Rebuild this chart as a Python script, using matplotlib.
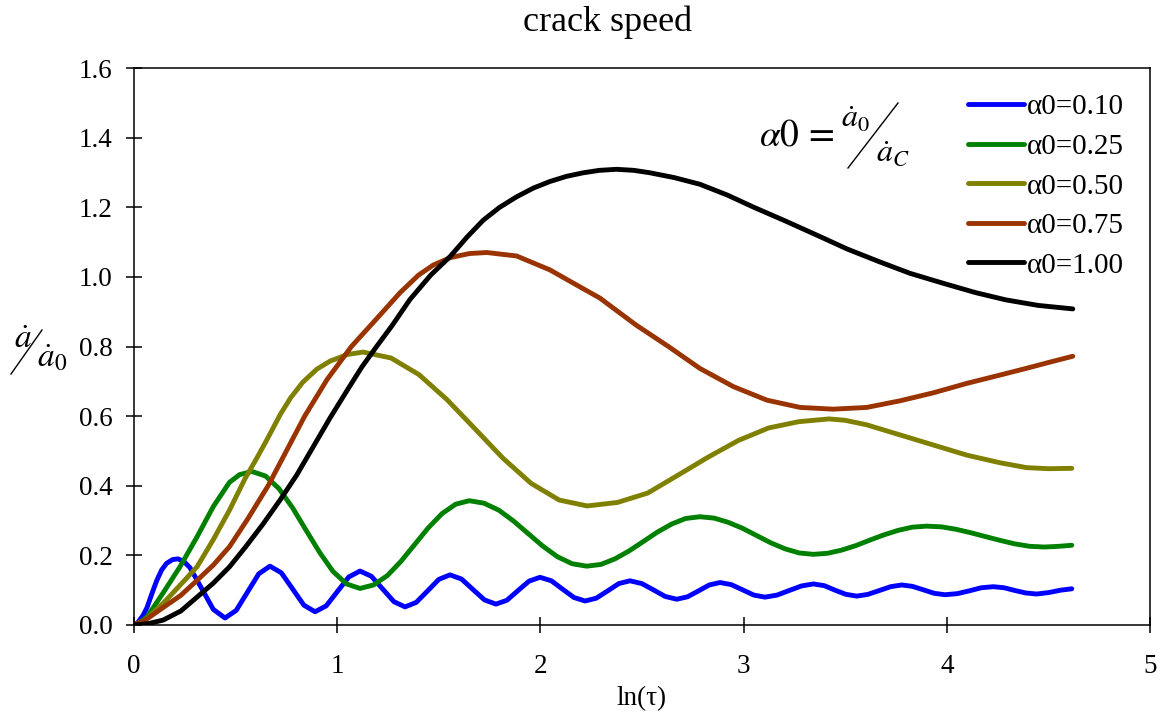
import matplotlib
matplotlib.use("Agg")
import matplotlib.pyplot as plt
from matplotlib.lines import Line2D

plt.rcParams['font.family'] = ['Liberation Serif', 'DejaVu Serif']
plt.rcParams['mathtext.fontset'] = 'stix'

# ---- data ----
labels = ["α0=0.10", "α0=0.25", "α0=0.50", "α0=0.75", "α0=1.00"]
colors = ["#0000FF", "#008000", "#808000", "#993300", "#000000"]

x_a010 = [0.000, 0.020, 0.045, 0.064, 0.088, 0.112, 0.136, 0.160, 0.190, 0.217, 0.246, 0.275,
          0.333, 0.390, 0.448, 0.503, 0.559,
          0.614, 0.669, 0.725, 0.780, 0.836, 0.891, 0.946, 1.002, 1.057, 1.112, 1.168, 1.223,
          1.279, 1.334, 1.389, 1.445, 1.500, 1.555, 1.612, 1.668, 1.725, 1.781, 1.835, 1.890,
          1.944, 1.998, 2.054, 2.109, 2.165, 2.220, 2.275, 2.331, 2.386, 2.441, 2.499, 2.556,
          2.614, 2.671, 2.724, 2.778, 2.831, 2.884, 2.939, 2.995, 3.050, 3.105, 3.165, 3.224,
          3.284, 3.343, 3.397, 3.450, 3.504, 3.557, 3.612, 3.668, 3.723, 3.778, 3.831, 3.885,
          3.938, 3.991, 4.051, 4.110, 4.170, 4.229, 4.282, 4.336, 4.389, 4.442, 4.500, 4.560,
          4.615]
y_a010 = [0.000, 0.008, 0.028, 0.050, 0.090, 0.128, 0.158, 0.177, 0.188, 0.190, 0.182, 0.165,
          0.105, 0.045, 0.020, 0.042, 0.095,
          0.147, 0.169, 0.150, 0.104, 0.057, 0.038, 0.055, 0.097, 0.138, 0.155, 0.140, 0.104,
          0.067, 0.052, 0.065, 0.098, 0.131, 0.144, 0.132, 0.102, 0.072, 0.060, 0.071, 0.099,
          0.126, 0.137, 0.127, 0.103, 0.079, 0.069, 0.077, 0.098, 0.119, 0.127, 0.119, 0.101,
          0.082, 0.074, 0.081, 0.098, 0.115, 0.122, 0.116, 0.101, 0.086, 0.080, 0.086, 0.099,
          0.112, 0.118, 0.113, 0.100, 0.088, 0.083, 0.088, 0.099, 0.110, 0.115, 0.111, 0.101,
          0.091, 0.087, 0.090, 0.098, 0.107, 0.110, 0.107, 0.099, 0.092, 0.089, 0.093, 0.100,
          0.104]

x_a025 = [0.000, 0.030, 0.064, 0.143, 0.226, 0.310, 0.390, 0.470, 0.520, 0.580, 0.647, 0.713,
          0.780, 0.846, 0.913, 0.979, 1.046, 1.112, 1.179, 1.247, 1.314, 1.381, 1.448, 1.516,
          1.583, 1.650, 1.722, 1.795, 1.867, 1.939, 2.011, 2.084, 2.156, 2.228, 2.298, 2.367,
          2.437, 2.507, 2.576, 2.646, 2.715, 2.785, 2.855, 2.924, 2.994, 3.064, 3.134, 3.203,
          3.273, 3.343, 3.413, 3.482, 3.552, 3.622, 3.691, 3.761, 3.830, 3.900, 3.973, 4.045,
          4.118, 4.190, 4.263, 4.335, 4.408, 4.480, 4.550, 4.615]
y_a025 = [0.000, 0.008, 0.023, 0.092, 0.167, 0.253, 0.340, 0.410, 0.432, 0.441, 0.428, 0.392,
          0.337, 0.273, 0.209, 0.154, 0.118, 0.105, 0.115, 0.142, 0.183, 0.231, 0.279, 0.320,
          0.347, 0.357, 0.350, 0.330, 0.299, 0.263, 0.227, 0.196, 0.176, 0.169, 0.174, 0.190,
          0.213, 0.240, 0.267, 0.290, 0.306, 0.311, 0.307, 0.295, 0.278, 0.257, 0.236, 0.219,
          0.207, 0.203, 0.206, 0.215, 0.228, 0.244, 0.259, 0.272, 0.281, 0.284, 0.282, 0.275,
          0.265, 0.254, 0.243, 0.233, 0.226, 0.224, 0.226, 0.229]

x_a050 = [0.000, 0.050, 0.143, 0.220, 0.310, 0.390, 0.470, 0.546, 0.604, 0.653, 0.720, 0.770,
          0.830, 0.900, 0.965, 1.050, 1.127, 1.265, 1.403, 1.541, 1.679, 1.816, 1.954, 2.092,
          2.230, 2.379, 2.528, 2.676, 2.825, 2.974, 3.123, 3.271, 3.420, 3.500, 3.606, 3.770,
          3.934, 4.098, 4.262, 4.393, 4.500, 4.615]
y_a050 = [0.000, 0.012, 0.062, 0.110, 0.167, 0.245, 0.330, 0.420, 0.479, 0.531, 0.605, 0.652,
          0.697, 0.735, 0.758, 0.777, 0.784, 0.767, 0.719, 0.647, 0.563, 0.479, 0.407, 0.359,
          0.342, 0.352, 0.379, 0.430, 0.482, 0.530, 0.566, 0.584, 0.592, 0.588, 0.575, 0.546,
          0.517, 0.488, 0.466, 0.452, 0.449, 0.450]

x_a075 = [0.000, 0.050, 0.143, 0.230, 0.310, 0.390, 0.470, 0.560, 0.660, 0.750, 0.840, 0.950,
          1.070, 1.210, 1.310, 1.400, 1.473, 1.555, 1.650, 1.736, 1.883, 2.047, 2.162, 2.293,
          2.470, 2.630, 2.785, 2.949, 3.114, 3.278, 3.441, 3.606, 3.770, 3.934, 4.098, 4.262,
          4.390, 4.500, 4.620]
y_a075 = [0.000, 0.012, 0.050, 0.085, 0.128, 0.172, 0.225, 0.305, 0.400, 0.500, 0.600, 0.705,
          0.800, 0.890, 0.955, 1.005, 1.034, 1.055, 1.067, 1.070, 1.060, 1.020, 0.982, 0.939,
          0.862, 0.800, 0.737, 0.685, 0.646, 0.625, 0.620, 0.625, 0.644, 0.667, 0.694, 0.718,
          0.737, 0.754, 0.772]

x_a100 = [0.000, 0.070, 0.143, 0.230, 0.310, 0.390, 0.470, 0.550, 0.635, 0.720, 0.800, 0.880,
          0.965, 1.050, 1.120, 1.190, 1.270, 1.358, 1.460, 1.555, 1.640, 1.719, 1.800, 1.883,
          1.965, 2.047, 2.130, 2.211, 2.290, 2.375, 2.460, 2.539, 2.660, 2.785, 2.920, 3.050,
          3.200, 3.360, 3.510, 3.670, 3.820, 3.980, 4.140, 4.290, 4.450, 4.620]
y_a100 = [0.000, 0.004, 0.014, 0.040, 0.080, 0.120, 0.167, 0.225, 0.290, 0.360, 0.430, 0.510,
          0.595, 0.675, 0.740, 0.797, 0.860, 0.935, 1.005, 1.058, 1.115, 1.163, 1.200, 1.230,
          1.255, 1.274, 1.289, 1.299, 1.306, 1.309, 1.306, 1.299, 1.285, 1.266, 1.235, 1.200,
          1.162, 1.120, 1.080, 1.043, 1.010, 0.982, 0.955, 0.934, 0.918, 0.908]

series_x = [x_a010, x_a025, x_a050, x_a075, x_a100]
series_y = [y_a010, y_a025, y_a050, y_a075, y_a100]

x_ticks = [0, 1, 2, 3, 4, 5]
y_ticks = [0.0, 0.2, 0.4, 0.6, 0.8, 1.0, 1.2, 1.4, 1.6]

# ---- figure ----
W, H = 1163, 717
fig = plt.figure(figsize=(W / 100, H / 100), dpi=100)
ax = fig.add_axes([134 / W, 1 - 625 / H, (1150 - 134) / W, (625 - 68) / H])

for xs, ys, c, lab in zip(series_x, series_y, colors, labels):
    ax.plot(xs, ys, color=c, lw=3.5, label=lab, solid_capstyle='round', solid_joinstyle='round')

ax.set_xlim(0, 5)
ax.set_ylim(0, 1.6)
ax.set_xticks(x_ticks)
ax.set_xticklabels([str(t) for t in x_ticks])
ax.set_yticks(y_ticks)
ax.set_yticklabels([f"{t:.1f}" for t in y_ticks])
for s in ax.spines.values():
    s.set_linewidth(1.1)
ax.tick_params(axis='both', direction='inout', length=11.5, width=1.1, labelsize=19.5)
ax.tick_params(axis='x', pad=15.0)
ax.tick_params(axis='y', pad=9.5)

ax.set_xlabel("ln(τ)", fontsize=19.5, labelpad=5)

fig.text(608 / W, 1 - 22 / H, "crack speed", fontsize=26, ha='center', va='center')

leg = ax.legend(loc='upper left', bbox_to_anchor=(968 / W, 1 - 94 / H),
                bbox_transform=fig.transFigure, frameon=False, fontsize=21,
                handlelength=1.92, handletextpad=0.1, labelspacing=0.45,
                borderpad=0, borderaxespad=0)


def fx(p):
    return p / W


def fy(p):
    return 1 - p / H


# formula annotation: alpha0 = a0dot / aCdot
fig.text(fx(834), fy(145), r'$\alpha0\,=\,$', fontsize=27, ha='right', va='baseline')
fig.text(fx(841), fy(128), r'$\dot{a}_0$', fontsize=23, ha='left', va='baseline')
fig.add_artist(Line2D([fx(848), fx(898)], [fy(168), fy(103)], color='black', lw=1.0,
                      transform=fig.transFigure))
fig.text(fx(876), fy(162), r'$\dot{a}_C$', fontsize=23, ha='left', va='baseline')

# y axis label: a_dot / a0_dot
fig.text(fx(14), fy(348), r'$\dot{a}$', fontsize=24, ha='left', va='baseline')
fig.add_artist(Line2D([fx(11), fx(42)], [fy(374), fy(330)], color='black', lw=1.0,
                      transform=fig.transFigure))
fig.text(fx(37), fy(367), r'$\dot{a}_0$', fontsize=24, ha='left', va='baseline')

fig.savefig("out.png", dpi=100)
